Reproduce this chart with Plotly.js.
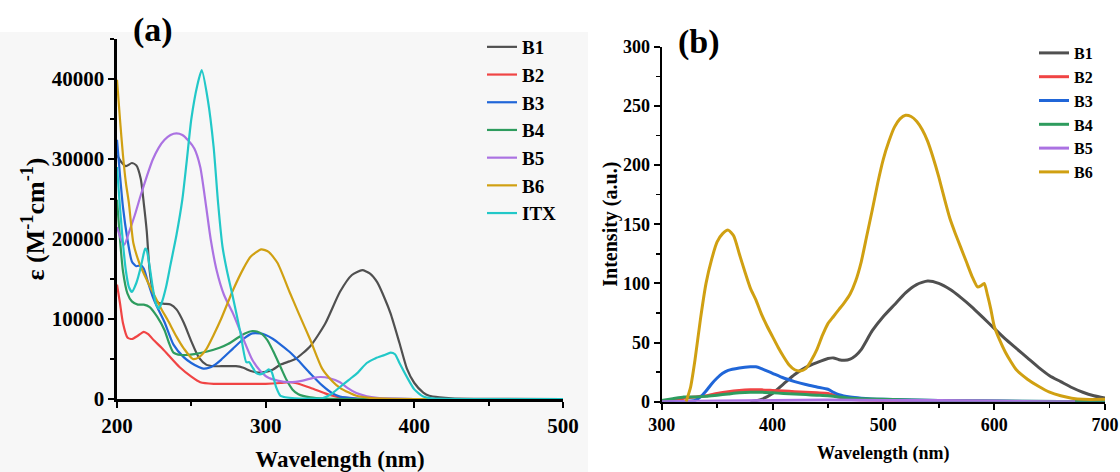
<!DOCTYPE html>
<html>
<head>
<meta charset="utf-8">
<script src="https://cdn.plot.ly/plotly-3.0.1.min.js"></script>
<style>html,body{margin:0;padding:0;background:#fff;}#chart{width:1120px;height:472px;}</style>
</head>
<body>
<div id="chart"></div>
<script>
// ---------- Panel (a): UV-Vis absorption ----------
const absNames = ['B1','B2','B3','B4','B5','B6','ITX'];
const absColors = ['#505050','#f04444','#2066d8','#2e9c5e','#ab72e2','#d0a012','#22c8c8'];

const a_B1_x = [200,203,206,210,213,216,218,220,222,225,228,232,236,240,245,250,255,260,265,270,280,285,290,295,300,305,310,316,320,330,340,350,358,365,370,375,380,384,390,395,400,406,410,417,425,440,460,500];
const a_B1_y = [30500,29600,29100,29500,29200,27500,24500,21000,16000,12800,12000,11900,11800,11200,9500,7200,5200,4300,4100,4100,4100,3900,3500,3300,3400,3700,4300,4700,5000,6600,9400,13400,15500,16100,15700,14600,12600,10700,7000,3800,2000,800,400,200,80,20,5,0];

const a_B2_x = [200,202,204,207,210,214,218,221,225,230,235,242,250,256,265,278,290,300,310,316,320,330,340,345,350,360,380,500];
const a_B2_y = [14300,12000,9500,7700,7500,7900,8400,8100,7300,6400,5400,4000,2800,2100,1900,1900,1900,1900,2000,2100,2000,1400,700,400,200,60,0,0];

const a_B3_x = [200,202,204,207,210,213,216,218,221,224,227,232,238,245,250,255,258,262,266,270,278,285,291,296,300,305,310,316,322,330,338,345,350,360,370,400,500];
const a_B3_y = [32400,28000,24000,20000,17200,16600,16700,16300,14500,12800,11500,9600,6800,5200,4500,4000,3800,3900,4300,4900,6300,7500,8200,8200,8000,7500,6800,5900,4800,3200,1700,700,300,80,20,0,0];

const a_B4_x = [200,202,204,207,210,214,218,222,227,232,235,238,243,247,252,260,269,275,280,286,291,296,301,305,310,314,318,322,330,340,360,500];
const a_B4_y = [24900,20000,16000,13200,12200,11800,11800,11500,10300,8600,7000,5800,5500,5500,5600,5900,6400,6900,7500,8200,8500,8300,7400,6000,4000,2400,1200,600,200,50,0,0];

const a_B5_x = [200,203,205,208,212,216,220,224,228,232,236,240,244,248,252,256,260,263,267,272,278,285,291,296,301,308,316,325,332,337,343,350,355,361,368,375,385,400,500];
const a_B5_y = [21500,19800,19300,20800,23000,25500,27800,29900,31400,32400,33000,33200,33000,32300,31300,29000,24000,20000,16100,13000,10700,7500,4900,3600,2750,2300,2100,2300,2650,2750,2600,2100,1400,750,350,150,50,0,0];

const a_B6_x = [200,202,204,206,208,211,215,220,225,230,234,240,245,251,255,260,265,270,278,285,290,297,302,308,316,322,330,338,345,350,356,361,370,380,400,500];
const a_B6_y = [39900,35000,30500,27000,24500,19500,17000,14900,13000,11200,9900,7800,6300,5000,5200,6200,8000,10000,13600,16300,17800,18700,18400,17000,13400,10800,7400,3800,2200,1400,800,400,150,50,0,0];

const a_ITX_x = [200,202,204,206,208,210,213,216,218,219,220,222,224,226,228,230,233,236,240,244,247,250,254,257,261,265,268,271,274,278,283,287,289,291,294,297,300,302,304,307,310,320,330,338,344,350,356,362,368,374,380,384,387,390,395,400,406,412,500];
const a_ITX_y = [29000,24000,19500,16000,14000,13400,14500,16500,18200,18800,18600,16500,14000,12000,11300,12000,14000,16800,20500,25000,29900,35000,39200,41100,37500,31500,24500,19000,16000,12700,8300,4600,4600,4000,3200,3100,3400,3700,3400,1500,400,80,50,100,600,1500,2400,3300,4500,5100,5500,5800,5600,4500,2750,1200,300,80,0];

const absX = [a_B1_x,a_B2_x,a_B3_x,a_B4_x,a_B5_x,a_B6_x,a_ITX_x];
const absY = [a_B1_y,a_B2_y,a_B3_y,a_B4_y,a_B5_y,a_B6_y,a_ITX_y];

// ---------- Panel (b): emission ----------
const emNames = ['B1','B2','B3','B4','B5','B6'];
const emColors = ['#505050','#f04444','#2066d8','#2e9c5e','#ab72e2','#d0a012'];

const b_B1_x = [380,390,400,410,420,430,440,450,455,460,465,470,475,480,490,500,510,520,530,540,550,560,570,580,590,600,610,620,630,640,650,660,670,680,690,700];
const b_B1_y = [0,2,7,15,23,29,33,36.5,37,35.5,35,36,39,44,60,72,82,92,99,102,100,95,88,80,71,62,53,45,37,29,22,17,12,8,5,3];

const b_B2_x = [300,310,320,330,340,350,360,370,380,390,400,410,420,430,440,450,460,470,480,500,550,600,700];
const b_B2_y = [0,1,3,4,5,7,8.5,9.5,10,10,9.5,9,8.5,8,7.5,7,4,2,1.5,1,0.5,0,0];

const b_B3_x = [300,320,330,335,340,345,350,355,360,370,380,385,390,400,410,420,430,440,450,455,460,470,480,500,550,600,700];
const b_B3_y = [0,0,1,4,9,15,20,24,26.5,28.5,29.5,29.5,28,24,20,17,14.5,12.5,10.5,8,6,4,3,2,1,0.5,0];

const b_B4_x = [300,310,320,330,340,350,360,370,380,390,400,410,420,430,440,450,460,470,480,500,550,600,700];
const b_B4_y = [1,2.5,4,4,4.5,5.5,6.5,7.5,8,8,7.5,7,6.5,6,5.5,5,4,3,2.5,2,1,0.5,0];

const b_B5_x = [300,350,400,450,500,550,600,650,673];
const b_B5_y = [0,0.5,1,1.5,1,1,0.5,0,0];

const b_B6_x = [322,326,330,335,340,345,350,355,360,365,370,375,380,385,390,395,400,405,410,415,420,425,430,435,440,445,450,455,460,465,470,475,480,485,490,495,500,505,510,515,520,525,530,535,540,545,550,555,560,565,570,575,580,585,588,591,594,597,600,605,610,615,620,630,640,650,660,670,680,700];
const b_B6_y = [0,12,35,70,100,120,135,142,145,140,125,110,96,86,74,64,55,46,38,31,27,26,28,35,44,56,66,72,78,84,91,102,118,140,162,185,205,220,232,239,242,241,237,230,220,206,190,172,155,142,130,118,106,97,98,100,90,78,64,52,42,34,27,19,13,8,5,3,2,2];

const emX = [b_B1_x,b_B2_x,b_B3_x,b_B4_x,b_B5_x,b_B6_x];
const emY = [b_B1_y,b_B2_y,b_B3_y,b_B4_y,b_B5_y,b_B6_y];

const FONT = 'Liberation Serif, Times New Roman, serif';
const traces = [];
absNames.forEach((n,i)=>{
  traces.push({x:absX[i], y:absY[i], name:n, type:'scatter', mode:'lines',
    line:{color:absColors[i], width:2.2, shape:'spline', smoothing:0.6},
    xaxis:'x', yaxis:'y', legend:'legend', hoverinfo:'skip'});
});
emNames.forEach((n,i)=>{
  traces.push({x:emX[i], y:emY[i], name:n, type:'scatter', mode:'lines',
    line:{color:emColors[i], width:3, shape:'spline', smoothing:0.6},
    xaxis:'x2', yaxis:'y2', legend:'legend2', hoverinfo:'skip'});
});

function ax(extra){
  return Object.assign({
    showline:true, linecolor:'#000', linewidth:2.5, mirror:false,
    ticks:'outside', ticklen:6, tickwidth:2, tickcolor:'#000',
    showgrid:false, zeroline:false, fixedrange:true,
    tickformat:'d'
  }, extra);
}

const layout = {
  width:1120, height:472,
  margin:{l:0,r:0,t:0,b:0},
  paper_bgcolor:'#ffffff', plot_bgcolor:'rgba(0,0,0,0)',
  showlegend:true,
  font:{family:FONT, color:'#000'},
  xaxis: ax({domain:[0.10446,0.50268], range:[200,500], dtick:100, tick0:200, anchor:'y',
    tickfont:{family:FONT,size:21,weight:'bold'},
    minor:{dtick:50, ticks:'outside', ticklen:4, tickwidth:2, tickcolor:'#000'},
    title:{text:'Wavelength (nm)', font:{family:FONT,size:23,weight:'bold'}, standoff:19}}),
  yaxis: ax({domain:[0.15466,0.91737], range:[0,45000], dtick:10000, tick0:0, anchor:'x',
    tickfont:{family:FONT,size:21,weight:'bold'},
    minor:{dtick:5000, ticks:'outside', ticklen:4, tickwidth:2, tickcolor:'#000'},
    title:{text:'ε (M<sup>-1</sup>cm<sup>-1</sup>)', font:{family:FONT,size:26,weight:'bold'}, standoff:0}}),
  xaxis2: ax({domain:[0.59080,0.98661], range:[300,700], dtick:100, tick0:300, anchor:'y2', linewidth:2,
    tickfont:{family:FONT,size:18,weight:'bold'},
    minor:{dtick:50, ticks:'outside', ticklen:4, tickwidth:1.5, tickcolor:'#000'},
    title:{text:'Wavelength (nm)', font:{family:FONT,size:18,weight:'bold'}, standoff:12}}),
  yaxis2: ax({domain:[0.14894,0.90106], range:[0,300], dtick:50, tick0:0, anchor:'x2', linewidth:2,
    tickfont:{family:FONT,size:18,weight:'bold'},
    minor:{dtick:25, ticks:'outside', ticklen:4, tickwidth:1.5, tickcolor:'#000'},
    title:{text:'Intensity (a.u.)', font:{family:FONT,size:20,weight:'bold'}, standoff:0}}),
  legend:{x:482/1120, y:1-28/472, xanchor:'left', yanchor:'top', bgcolor:'rgba(0,0,0,0)',
    font:{family:FONT,size:19,weight:'bold',color:'#000'}, itemclick:false, itemdoubleclick:false, traceorder:'normal'},
  legend2:{x:1034/1120, y:1-36/472, xanchor:'left', yanchor:'top', bgcolor:'rgba(0,0,0,0)',
    font:{family:FONT,size:16,weight:'bold',color:'#000'}, itemclick:false, itemdoubleclick:false, traceorder:'normal'},
  shapes:[{type:'rect', xref:'paper', yref:'paper', x0:0, x1:588/1120, y0:0, y1:1-32/472,
    fillcolor:'#f7f7f7', line:{width:0}, layer:'below'}],
  annotations:[
    {text:'(a)', xref:'paper', yref:'paper', x:153/1120, y:1-30/472, xanchor:'center', yanchor:'middle',
     showarrow:false, font:{family:FONT,size:34,weight:'bold',color:'#000'}},
    {text:'(b)', xref:'paper', yref:'paper', x:699/1120, y:1-42/472, xanchor:'center', yanchor:'middle',
     showarrow:false, font:{family:FONT,size:34,weight:'bold',color:'#000'}}
  ]
};

Plotly.newPlot('chart', traces, layout, {staticPlot:true, displayModeBar:false});
</script>
</body>
</html>
